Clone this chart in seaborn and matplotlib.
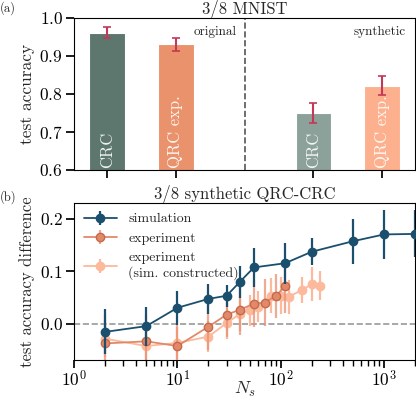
import numpy as np
import pandas as pd
import matplotlib.pyplot as plt
import seaborn as sns

# Panel (a): bar values
bar_pos = [0, 1, 3, 4]
bar_names = ['CRC', 'QRC exp.', 'CRC', 'QRC exp.']
bar_keys = ['crc_orig', 'qrc_orig', 'crc_syn', 'qrc_syn']
bar_acc = [0.961, 0.931, 0.750, 0.822]
bar_err = [0.014, 0.017, 0.027, 0.025]
bar_colors = ['#5d776e', '#e9926c', '#8ca19a', '#fdb08d']

# Panel (b): test accuracy difference vs N_s
sim_x = [2, 5, 10, 20, 30, 40, 55, 110, 200, 500, 1000, 2000]
sim_y = [-0.016, -0.005, 0.030, 0.047, 0.053, 0.079, 0.107, 0.115, 0.137, 0.157, 0.170, 0.171]
sim_e = [0.043, 0.037, 0.032, 0.029, 0.021, 0.031, 0.037, 0.039, 0.026, 0.043, 0.046, 0.045]

exp_x = [2, 5, 10, 20, 30, 40, 55, 70, 90, 110]
exp_y = [-0.038, -0.034, -0.043, -0.006, 0.017, 0.026, 0.038, 0.040, 0.053, 0.071]
exp_e = [0.056, 0.050, 0.040, 0.045, 0.042, 0.048, 0.045, 0.045, 0.042, 0.050]

con_x = [2, 5, 10, 20, 30, 40, 50, 60, 80, 100, 120, 160, 200, 240]
con_y = [-0.029, -0.043, -0.037, -0.025, 0.001, 0.018, 0.025, 0.032, 0.053, 0.053, 0.051, 0.064, 0.075, 0.072]
con_e = [0.035, 0.030, 0.030, 0.030, 0.030, 0.032, 0.030, 0.030, 0.033, 0.035, 0.032, 0.025, 0.033, 0.028]

sns.set_theme(style='ticks')
plt.rcParams.update({
    'font.family': 'serif',
    'font.serif': ['cmr10', 'DejaVu Serif'],
    'mathtext.fontset': 'cm',
    'axes.unicode_minus': False,
    'axes.formatter.use_mathtext': True,
    'axes.edgecolor': 'black',
    'axes.linewidth': 0.8,
    'xtick.color': 'black',
    'ytick.color': 'black',
})

fig = plt.figure(figsize=(4.16, 3.98), dpi=100)
ax1 = fig.add_axes([0.178, 0.573, 0.82, 0.382])
ax2 = fig.add_axes([0.178, 0.095, 0.82, 0.395])

# ---- (a) bars
df = pd.DataFrame({'pos': bar_pos, 'acc': bar_acc, 'key': bar_keys})
sns.barplot(data=df, x='pos', y='acc', hue='key', native_scale=True,
            palette=dict(zip(bar_keys, bar_colors)), dodge=False, saturation=1,
            width=0.52, edgecolor='white', linewidth=0.8, legend=False, ax=ax1)
ax1.errorbar(bar_pos, bar_acc, yerr=bar_err, fmt='none', ecolor='#c23a57',
             elinewidth=1.5, capsize=3, capthick=1.2, zorder=5)
for p, name in zip(bar_pos, bar_names):
    ax1.text(p, 0.606, name, rotation=90, ha='center', va='bottom',
             color='white', alpha=0.9, fontsize=12)
ax1.axvline(2, color='#555555', ls='--', lw=1.2)
ax1.text(1.88, 0.963, 'original', ha='right', va='center', fontsize=9.5)
ax1.text(4.35, 0.963, 'synthetic', ha='right', va='center', fontsize=9.5)
ax1.set_xlim(-0.48, 4.48)
ax1.set_ylim(0.6, 1.0)
ax1.set_xticks(bar_pos)
ax1.set_xticklabels([])
ax1.set_yticks([0.6, 0.7, 0.8, 0.9, 1.0])
ax1.tick_params(axis='y', labelsize=12.5, pad=2)
ax1.set_xlabel('')
ax1.set_ylabel('test accuracy', fontsize=12.5, labelpad=3)
ax1.set_title('3/8 MNIST', fontsize=12, pad=2)

# ---- (b) lines with error bars
ax2.axhline(0, color='#999999', ls='--', lw=1.2, zorder=0)
ax2.errorbar(con_x, con_y, yerr=con_e, fmt='-o', color='#fdb99b', ms=6,
             lw=1.3, elinewidth=1.6, label='experiment\n(sim. constructed)', zorder=1)
ax2.errorbar(exp_x, exp_y, yerr=exp_e, fmt='-o', color='#e2896a', mec='#c46a4c',
             ecolor=(0.91, 0.56, 0.44, 0.75), ms=6, lw=1.3, elinewidth=1.6,
             label='experiment', zorder=2)
ax2.errorbar(sim_x, sim_y, yerr=sim_e, fmt='-o', color='#1b4f6e', ms=6,
             lw=1.3, elinewidth=1.6, label='simulation', zorder=3)
ax2.set_xscale('log')
ax2.set_xlim(1, 2000)
ax2.set_ylim(-0.07, 0.23)
ax2.set_yticks([0.0, 0.1, 0.2])
ax2.tick_params(axis='y', labelsize=12.5, pad=2)
ax2.tick_params(axis='x', labelsize=12.5, pad=0)
ax2.set_xlabel('$N_s$', fontsize=13, va='top')
ax2.xaxis.set_label_coords(0.5, -0.125)
ax2.set_ylabel('test accuracy difference', fontsize=12, labelpad=3)
ax2.set_title('3/8 synthetic QRC-CRC', fontsize=12, pad=2)
h, l = ax2.get_legend_handles_labels()
ax2.legend(h[::-1], l[::-1], loc='upper left', frameon=False, fontsize=10,
           handlelength=2.4, borderaxespad=0.3, labelspacing=0.5)

fig.text(0.0, 0.98, '(a)', fontsize=9, va='center')
fig.text(0.0, 0.505, '(b)', fontsize=9, va='center')

fig.savefig('out.png', dpi=100)
